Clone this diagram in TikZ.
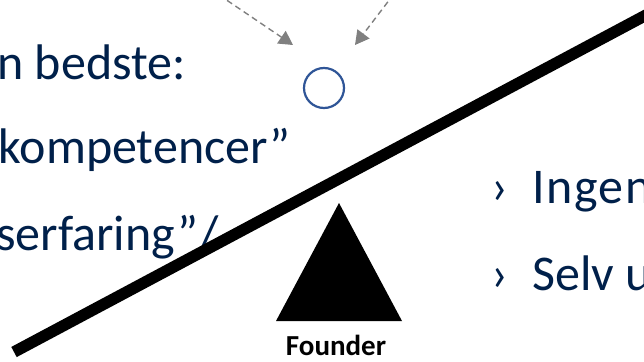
\documentclass[tikz,border=0pt]{standalone}
\usepackage{fontspec}
\setmainfont{Carlito}
\usetikzlibrary{arrows.meta,positioning}
\definecolor{navytext}{RGB}{0,32,74}
\definecolor{ballblue}{RGB}{47,85,151}
\definecolor{arrowgray}{RGB}{128,128,128}

\begin{document}
\begin{tikzpicture}[x=1pt,y=-1pt,
  >={Triangle[length=14pt,width=15pt]},
  slide/.style={text=navytext,font=\fontsize{50}{60}\selectfont,inner sep=0pt},
  hint/.style={->,arrowgray,dash pattern=on 6pt off 4pt,line width=1.4pt},
  node distance=87pt]
  \useasboundingbox (0,0) rectangle (644,361);
  \clip (0,0) rectangle (644,361);
  \fill [white] (0,0) rectangle (644,361);

  % left side, cut off by the slide edge
  \node [slide,anchor=base east] (bedste)   at (186,79)  {n bedste:};
  \node [slide,anchor=base east] (komp)     at (291,163) {kompetencer”};
  \node [slide,anchor=base west] (erfaring) at (-4,250)  {serfaring”\hspace{2pt}/};

  % right side bullets
  \node [slide,anchor=base west] (b1) at (491,203) {›};
  \node [slide] (b2) [below=87pt of b1.base west,anchor=base west] {›};
  \node [slide,anchor=base west] (ingen) at (532,203) {\addfontfeature{LetterSpace=3}Ingen};
  \node [slide] (selv) [below=87pt of ingen.base west,anchor=base west] {Selv u};

  % lever and fulcrum
  \fill (339,203) -- (276,321) -- (402,321) -- cycle;
  \node [font=\bfseries\fontsize{29}{34}\selectfont,anchor=base,inner sep=0pt] (founder) at (336,355) {Founder};
  \coordinate (lowend) at (14,352);
  \coordinate (highend) at (680,-3);
  \draw [line width=11.5pt] (lowend) -- (highend);

  % the ball and the pushes
  \node [circle,draw=ballblue,line width=2.2pt,minimum size=40pt,inner sep=0pt] (ball) at (324,88) {};
  \coordinate (pushL) at (194,-22);
  \coordinate (pushR) at (406,-22);
  \coordinate (tipL)  at (293,45);
  \coordinate (tipR)  at (355,45);
  \path [hint] (pushL) edge (tipL)
               (pushR) edge (tipR);
\end{tikzpicture}
\end{document}
